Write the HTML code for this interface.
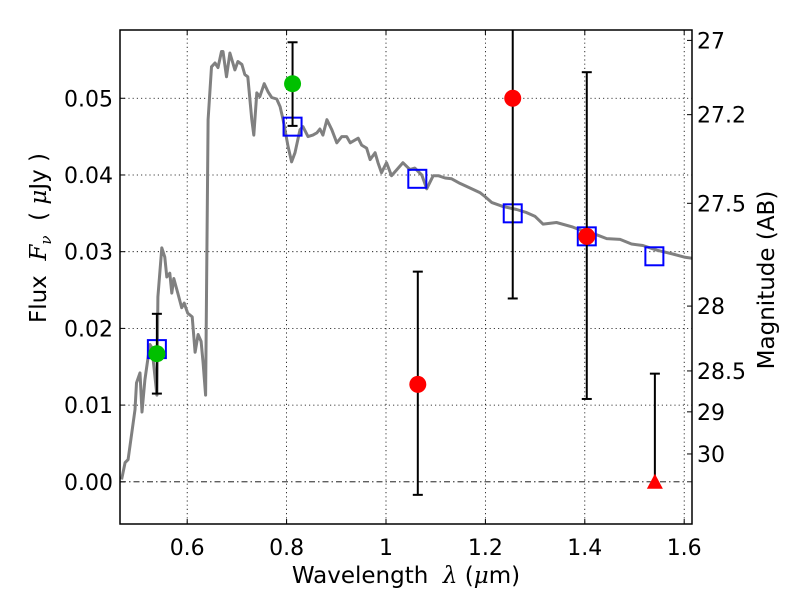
<!DOCTYPE html>
<html><head><meta charset="utf-8">
<style>
html,body{margin:0;padding:0;background:#fff;}
svg{display:block;font-family:"DejaVu Sans","Liberation Sans",sans-serif;}
</style></head>
<body>
<svg id="chart" width="800" height="600" viewBox="0 0 800 600" xmlns="http://www.w3.org/2000/svg"></svg>
<script>
// ---- data ----
const specLam = [0.468,0.475,0.481,0.495,0.498,0.505,0.509,0.515,0.525,0.529,0.539,0.541,0.549,0.555,0.559,0.565,0.569,0.573,0.581,0.589,0.594,0.601,0.610,0.616,0.622,0.628,0.632,0.637,0.640,0.642,0.649,0.656,0.662,0.669,0.672,0.679,0.686,0.696,0.702,0.710,0.716,0.722,0.730,0.734,0.740,0.746,0.755,0.763,0.770,0.780,0.787,0.793,0.803,0.810,0.817,0.827,0.833,0.843,0.853,0.861,0.867,0.873,0.881,0.891,0.901,0.911,0.921,0.928,0.944,0.951,0.961,0.968,0.978,0.984,0.991,1.001,1.011,1.034,1.048,1.058,1.072,1.082,1.095,1.105,1.119,1.132,1.149,1.169,1.189,1.199,1.213,1.235,1.263,1.283,1.300,1.316,1.343,1.376,1.404,1.424,1.444,1.471,1.494,1.517,1.545,1.577,1.600,1.62];
const specFlux = [0.0003,0.0025,0.0029,0.0094,0.0129,0.0142,0.0091,0.0133,0.0179,0.0175,0.0113,0.0241,0.0305,0.0293,0.0267,0.0272,0.0246,0.0265,0.0246,0.0227,0.0233,0.0220,0.0215,0.0169,0.0192,0.0183,0.0155,0.0113,0.0329,0.0472,0.0541,0.0546,0.0540,0.0561,0.0561,0.0528,0.0559,0.0537,0.0548,0.0544,0.0531,0.0528,0.0472,0.0452,0.0507,0.0502,0.0519,0.0508,0.0501,0.0499,0.0489,0.0472,0.0437,0.0417,0.0429,0.0459,0.0463,0.0450,0.0452,0.0455,0.0460,0.0452,0.0472,0.0459,0.0442,0.0450,0.0450,0.0442,0.0448,0.0439,0.0435,0.0420,0.0429,0.0416,0.0403,0.0416,0.0399,0.0416,0.0407,0.0409,0.0400,0.0382,0.0399,0.0399,0.0396,0.0395,0.0389,0.0383,0.0377,0.0372,0.0364,0.0359,0.0355,0.0351,0.0346,0.0336,0.0338,0.0332,0.0325,0.0322,0.0317,0.0316,0.0310,0.0308,0.0302,0.0297,0.0293,0.0291];
const modelLam = [0.539,0.812,1.063,1.255,1.404,1.540];
const modelFlux = [0.0173,0.0463,0.0395,0.0350,0.0320,0.0294];
const greenLam = [0.539,0.812];
const greenFlux = [0.0167,0.0519];
const greenLo = [0.0115,0.0464];
const greenHi = [0.0219,0.0573];
const redLam = [1.064,1.255,1.404];
const redFlux = [0.0127,0.0500,0.0320];
const redLo = [-0.0017,0.0239,0.0108];
const redHi = [0.0274,0.0700,0.0534];
const limLam = [1.541];
const limFlux = [0.0];
const limHi = [0.0141];
const xTicks = [0.6,0.8,1.0,1.2,1.4,1.6];
const xTickLabels = ["0.6","0.8","1","1.2","1.4","1.6"];
const yTicks = [0.00,0.01,0.02,0.03,0.04,0.05];
const yTickLabels = ["0.00","0.01","0.02","0.03","0.04","0.05"];
const magTicks = [27,27.2,27.5,28,28.5,29,30];
const magTickLabels = ["27","27.2","27.5","28","28.5","29","30"];

// ---- axes ----
const L=120,R=692,T=30,B=524;
const X0=0.4648,X1=1.6157,Y0=-0.0055,Y1=0.0589;
const sx=v=>L+(v-X0)/(X1-X0)*(R-L);
const sy=v=>B-(v-Y0)/(Y1-Y0)*(B-T);
const magToFlux=m=>Math.pow(10,(23.9-m)/2.5);
const NS="http://www.w3.org/2000/svg";
const svg=document.getElementById('chart');
function mk(tag,attrs,parent){const e=document.createElementNS(NS,tag);for(const k in attrs)e.setAttribute(k,attrs[k]);(parent||svg).appendChild(e);return e;}

const defs=mk('defs',{});
const cp=mk('clipPath',{id:'clip'},defs);
mk('rect',{x:L,y:T,width:R-L,height:B-T},cp);

// grid
const grid=mk('g',{'stroke':'#000','stroke-width':'0.8','stroke-dasharray':'1.2,3'});


xTicks.forEach(v=>{mk('line',{x1:sx(v),x2:sx(v),y1:T,y2:B},grid);});
yTicks.forEach(v=>{if(v!==0)mk('line',{x1:L,x2:R,y1:sy(v),y2:sy(v)},grid);});

// zero line
const zl=mk('line',{x1:L,x2:R,y1:sy(0),y2:sy(0),stroke:'#000','stroke-width':'0.8','stroke-dasharray':'6,3,1.5,3'});



const plot=mk('g',{'clip-path':'url(#clip)'});
// spectrum
let d='';specLam.forEach((l,i)=>{d+=(i?'L':'M')+sx(l).toFixed(1)+','+sy(specFlux[i]).toFixed(1);});
const sp=mk('path',{d:d,fill:'none',stroke:'#808080','stroke-width':'3','stroke-linejoin':'round'},plot);



function errbar(x,lo,hi,capLo,capHi,name){
  const g=mk('g',{stroke:'#000','stroke-width':'2'},plot);
  
  
  mk('line',{x1:sx(x),x2:sx(x),y1:sy(lo),y2:sy(hi)},g);
  if(capLo)mk('line',{x1:sx(x)-5,x2:sx(x)+5,y1:sy(lo),y2:sy(lo)},g);
  if(capHi)mk('line',{x1:sx(x)-5,x2:sx(x)+5,y1:sy(hi),y2:sy(hi)},g);
}
// model squares
modelLam.forEach((l,i)=>{
  const r=mk('rect',{x:sx(l)-9,y:sy(modelFlux[i])-9,width:18,height:18,fill:'none',stroke:'#0000ff','stroke-width':'2'},plot);
  
  
});
greenLam.forEach((l,i)=>{
  errbar(l,greenLo[i],greenHi[i],true,true,'green-error-bar');
  const c=mk('circle',{cx:sx(l),cy:sy(greenFlux[i]),r:8.5,fill:'#00c000'},plot);
  
  
});
redLam.forEach((l,i)=>{
  errbar(l,redLo[i],redHi[i],true,true,'red-error-bar');
  const c=mk('circle',{cx:sx(l),cy:sy(redFlux[i]),r:8.5,fill:'#ff0000'},plot);
  
  
});
limLam.forEach((l,i)=>{
  errbar(l,limFlux[i],limHi[i],false,true,'upper-limit-error-bar');
  const x=sx(l),y=sy(limFlux[i]);
  const t=mk('polygon',{points:`${x-8},${y+7} ${x+8},${y+7} ${x},${y-8}`,fill:'#ff0000'},plot);
  
  
});

// frame
const fr=mk('rect',{x:L,y:T,width:R-L,height:B-T,fill:'none',stroke:'#000','stroke-width':'1.5'});



// ticks & labels
const tk=mk('g',{stroke:'#000','stroke-width':'1'});
const lab=mk('g',{'font-size':'22',fill:'#000'});
xTicks.forEach((v,i)=>{
  mk('line',{x1:sx(v),x2:sx(v),y1:B,y2:B-5},tk);mk('line',{x1:sx(v),x2:sx(v),y1:T,y2:T+5},tk);
  const t=mk('text',{x:sx(v),y:B+31,'text-anchor':'middle'},lab);t.textContent=xTickLabels[i];
  
  
});
yTicks.forEach((v,i)=>{
  mk('line',{x1:L,x2:L+5,y1:sy(v),y2:sy(v)},tk);
  const t=mk('text',{x:113,y:sy(v)+8,'text-anchor':'end'},lab);t.textContent=yTickLabels[i];
  
  
});
magTicks.forEach((m,i)=>{
  const y=sy(magToFlux(m));
  mk('line',{x1:R,x2:R-5,y1:y,y2:y},tk);
  const t=mk('text',{x:697,y:y+8,'text-anchor':'start'},lab);t.textContent=magTickLabels[i];
  
  
});
</script>
<svg style="position:absolute;left:0;top:0" width="800" height="600">
<text x="406" y="583" text-anchor="middle" font-size="23" font-family="DejaVu Sans, Liberation Sans, sans-serif">Wavelength&#160;&#160;<tspan font-family="DejaVu Serif, Liberation Serif, serif" font-style="italic">λ</tspan> (<tspan font-family="DejaVu Serif, Liberation Serif, serif" font-style="italic">μ</tspan>m)</text>
<text transform="translate(46,238) rotate(-90)" text-anchor="middle" font-size="23" font-family="DejaVu Sans, Liberation Sans, sans-serif">Flux&#160;&#160;<tspan font-family="DejaVu Serif, Liberation Serif, serif" font-style="italic">F<tspan font-size="15" dy="5">ν</tspan></tspan><tspan dy="-5">&#160;&#160;(&#160;</tspan><tspan font-family="DejaVu Serif, Liberation Serif, serif" font-style="italic">μ</tspan>Jy&#160;)</text>
<text transform="translate(774,280) rotate(-90)" text-anchor="middle" font-size="23" font-family="DejaVu Sans, Liberation Sans, sans-serif">Magnitude (AB)</text>
</svg>
</body></html>
